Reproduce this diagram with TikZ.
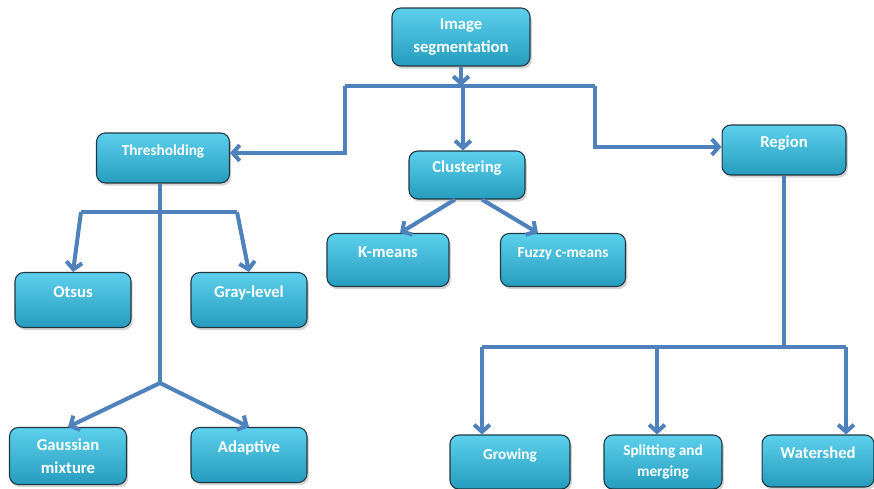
\documentclass[tikz,border=0pt]{standalone}
\usepackage{fontspec}
\setmainfont{Carlito}
\usetikzlibrary{positioning, arrows.meta, shadows}

\definecolor{boxtop}{RGB}{92,208,236}
\definecolor{boxbot}{RGB}{38,156,190}
\definecolor{boxline}{RGB}{30,55,65}
\definecolor{linkblue}{RGB}{79,129,189}

\begin{document}
\begin{tikzpicture}[x=0.02cm, y=-0.02cm,
    cell/.style={rounded corners=5pt, top color=boxtop, bottom color=boxbot, draw=boxline, line width=0.6pt,
        text=white, font=\bfseries\fontsize{9.5}{13}\selectfont, align=center,
        minimum width=2.32cm, minimum height=1.1cm,
        drop shadow={opacity=0.35, shadow xshift=1pt, shadow yshift=-1.5pt}},
    raised/.style={text height=6pt, text depth=9pt},
    smalltext/.style={font=\bfseries\fontsize{8.7}{11.5}\selectfont},
    link/.style={draw=linkblue, line width=2.3pt},
    arr/.style={link, -{Straight Barb[length=4pt, width=9pt]}}]
    \useasboundingbox (0,0) rectangle (874,489);

    \node[cell, minimum width=2.76cm, minimum height=1.16cm] (img) at (461,37) {Image\\segmentation};
    \node[cell, raised, smalltext, minimum width=2.66cm, minimum height=1cm] (thr) at (163,158) {Thresholding};
    \node[cell, raised, minimum height=0.96cm] (clu) at (467,175) {Clustering};
    \node[cell, raised, minimum width=2.48cm, minimum height=1cm] (reg) at (784,150) {Region};
    \node[cell, raised, minimum width=2.44cm, minimum height=1.06cm] (kme) at (388,260) {K-means};
    \node[cell, raised, smalltext, minimum width=2.5cm, minimum height=1.06cm] (fuz) at (563,260) {Fuzzy c-means};
    \node[cell, raised] (ots) at (73,300) {Otsus};
    \node[cell, raised] (gra) at (249,300) {Gray-level};
    \node[cell, minimum width=2.34cm, minimum height=1.14cm] (gau) at (68,456) {Gaussian\\mixture};
    \node[cell, raised] (ada) at (249,455) {Adaptive};
    \node[cell, raised, smalltext, minimum width=2.4cm, minimum height=1.08cm] (gro) at (510,462) {Growing};
    \node[cell, smalltext, minimum width=2.36cm, minimum height=1.08cm] (spl) at (663,462) {Splitting and\\merging};
    \node[cell, raised, minimum width=2.24cm, minimum height=1.04cm] (wat) at (818,461) {Watershed};

    % joints of the connectors
    \coordinate (tl) at (345,86);
    \coordinate (tm) at (463,86);
    \coordinate (tr) at (595,86);
    \coordinate (lt) at (81,212);
    \coordinate (rt) at (237,212);
    \coordinate (jb) at (160,383);
    \coordinate (rj) at (784,347);
    \coordinate (rl) at (482,347);
    \coordinate (rm) at (657,347);
    \coordinate (rr) at (846,347);

    \draw[arr] (img.south) -- (img.south |- tm);
    \draw[link] (tl) -- (tr);
    \draw[arr] (tl) |- ([yshift=0.1cm]thr.east);
    \draw[arr] (tm) -- (tm |- clu.north);
    \draw[arr] (tr) |- ([yshift=0.06cm]reg.west);

    \draw[link] (jb |- thr.south) -- (jb);
    \draw[link] (lt) -- (rt);
    \draw[arr] (lt) -- (ots.north);
    \draw[arr] (rt) -- (gra.north);
    \draw[arr] (jb) -- (gau.north);
    \draw[arr] (jb) -- (ada.north);

    \draw[arr] ([xshift=-0.24cm]clu.south) -- ([xshift=0.24cm]kme.north);
    \draw[arr] ([xshift=0.3cm]clu.south) -- ([xshift=-0.5cm]fuz.north);

    \draw[link] (reg.south) -- (rj);
    \draw[link] (rl) -- (rr);
    \draw[arr] (rl) -- (rl |- gro.north);
    \draw[arr] (rm) -- (rm |- spl.north);
    \draw[arr] (rr) -- (rr |- wat.north);
\end{tikzpicture}
\end{document}
